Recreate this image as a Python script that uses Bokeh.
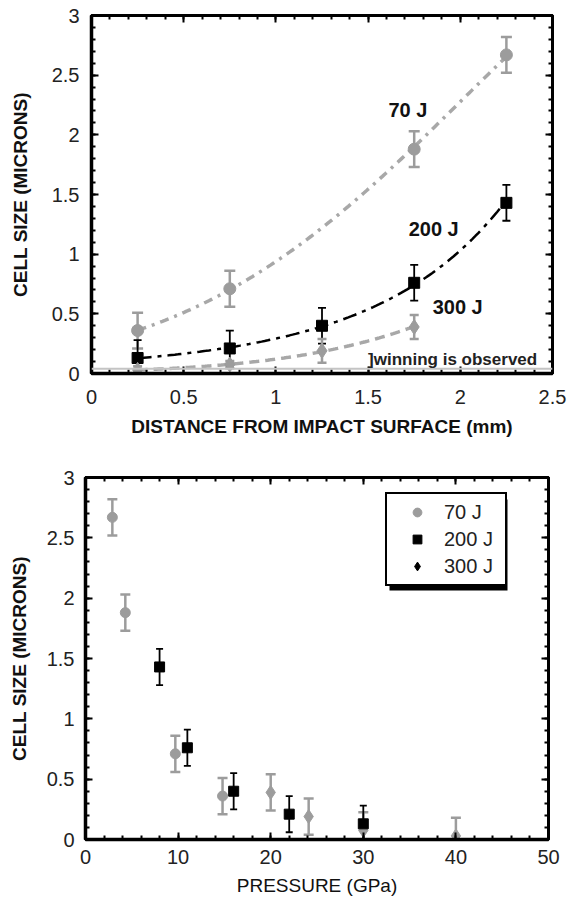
import numpy as np
from bokeh.plotting import figure
from bokeh.layouts import column, row
from bokeh.models import (ColumnDataSource, Whisker, TeeHead, Label, Span, LinearAxis, BoxAnnotation,
                          SingleIntervalTicker, CustomJSTickFormatter, Legend, LegendItem)
from bokeh.embed import file_html
from bokeh.resources import INLINE

# ---------------- data ----------------
energies = ["70 J", "200 J", "300 J"]

# panel (a): distance from impact surface (mm) vs cell size (microns)
dist_70 = [0.25, 0.75, 1.75, 2.25]
cell_70 = [0.36, 0.71, 1.88, 2.67]
erra_70 = [0.15, 0.15, 0.15, 0.15]

dist_200 = [0.25, 0.75, 1.25, 1.75, 2.25]
cell_200 = [0.13, 0.21, 0.40, 0.76, 1.43]
erra_200 = [0.15, 0.15, 0.15, 0.15, 0.15]

dist_300 = [0.25, 0.75, 1.25, 1.75]
cell_300 = [0.03, 0.075, 0.19, 0.39]
erra_300 = [0.03, 0.03, 0.10, 0.10]

twin_level = 0.04   # "twinning is observed" level

# panel (b): pressure (GPa) for the same points (same order as panel a)
pres_70 = [14.8, 9.7, 4.3, 2.9]
errb_70 = [0.15, 0.15, 0.15, 0.15]
pres_200 = [30.0, 22.0, 16.0, 11.0, 8.0]
errb_200 = [0.15, 0.15, 0.15, 0.15, 0.15]
pres_300 = [40.0, 30.0, 24.1, 20.0]
errb_300 = [0.15, 0.15, 0.15, 0.15]

GRAY = "#9c9c9c"
LGRAY = "#a8a8a8"
BLACK = "#000000"
FONT = "Liberation Sans"

fmt = CustomJSTickFormatter(code="return String(Math.round(tick*100)/100);")


def style(p, xint, yint, xlabel, ylabel, xbold, ylab_so, ytitle_so, xlab_so, xtitle_so):
    p.xgrid.visible = False
    p.ygrid.visible = False
    p.outline_line_color = "black"
    p.outline_line_width = 3
    p.background_fill_color = "white"
    p.border_fill_color = "white"
    for ax, interval in ((p.xaxis[0], xint), (p.yaxis[0], yint)):
        ax.ticker = SingleIntervalTicker(interval=interval, num_minor_ticks=5)
        ax.formatter = fmt
        ax.axis_line_width = 3.5
        ax.major_tick_in = 7
        ax.major_tick_out = 0
        ax.minor_tick_in = 4
        ax.minor_tick_out = 0
        ax.major_tick_line_width = 2
        ax.minor_tick_line_width = 2
        ax.major_label_text_font = FONT
        ax.major_label_text_font_size = "20px"
        ax.major_label_text_color = "#222222"
        ax.axis_label_text_font = FONT
        ax.axis_label_text_font_size = "19px"
        ax.axis_label_text_color = "#111111"
    p.xaxis[0].axis_label = xlabel
    p.yaxis[0].axis_label = ylabel
    p.xaxis[0].axis_label_text_font_style = "bold" if xbold else "normal"
    p.yaxis[0].axis_label_text_font_style = "bold"
    p.xaxis[0].major_label_standoff = xlab_so
    p.xaxis[0].axis_label_standoff = xtitle_so
    p.yaxis[0].major_label_standoff = ylab_so
    p.yaxis[0].axis_label_standoff = ytitle_so
    # mirrored axes (ticks only, no labels)
    for loc, interval in (("right", yint), ("above", xint)):
        ax = LinearAxis(ticker=SingleIntervalTicker(interval=interval, num_minor_ticks=5))
        ax.major_label_text_font_size = "0px"
        ax.major_label_text_color = None
        ax.major_label_standoff = 0
        ax.axis_line_width = 3
        ax.major_tick_in = 7
        ax.major_tick_out = 0
        ax.minor_tick_in = 4
        ax.minor_tick_out = 0
        ax.major_tick_line_width = 2
        ax.minor_tick_line_width = 2
        p.add_layout(ax, loc)


def errbars(p, x, y, e, color, width, head):
    y = np.asarray(y, dtype=float)
    e = np.asarray(e, dtype=float)
    src = ColumnDataSource(dict(x=x, lo=y - e, hi=y + e))
    w = Whisker(source=src, base="x", lower="lo", upper="hi",
                line_color=color, line_width=width,
                upper_head=TeeHead(size=head, line_color=color, line_width=width),
                lower_head=TeeHead(size=head, line_color=color, line_width=width))
    p.add_layout(w)


def fit_curve(x, y, n=120):
    # smooth trend through the points: quadratic fit of log(cell size)
    c = np.polyfit(x, np.log(y), 2)
    xs = np.linspace(min(x), max(x), n)
    return xs, np.exp(np.polyval(c, xs))


# ---------------- panel (a) ----------------
pa = figure(frame_width=461, frame_height=358, x_range=(0, 2.5), y_range=(0, 3),
            output_backend="svg", toolbar_location=None,
            min_border_left=91, min_border_right=16, min_border_top=15, min_border_bottom=77)
style(pa, 0.5, 0.5, "DISTANCE FROM IMPACT SURFACE (mm)", "CELL SIZE (MICRONS)", True,
      12, 18, 16, 9)

pa.add_layout(Span(location=twin_level, dimension="width", line_color="#c4c4c4", line_width=2))

xs, ys = fit_curve(dist_70, cell_70)
pa.line(xs, ys, line_color=LGRAY, line_width=3.5, line_dash="9 6 3 6")
xs, ys = fit_curve(dist_200, cell_200)
pa.line(xs, ys, line_color=BLACK, line_width=2.5, line_dash="14 6 4 6")
xs, ys = fit_curve(dist_300, cell_300)
pa.line(xs, ys, line_color=LGRAY, line_width=3.5, line_dash="10 6")

errbars(pa, dist_70, cell_70, erra_70, GRAY, 2.5, 11)
errbars(pa, dist_200, cell_200, erra_200, BLACK, 1.8, 8)
errbars(pa, dist_300, cell_300, erra_300, GRAY, 2.5, 9)

pa.scatter(dist_70, cell_70, marker="circle", size=12, fill_color=GRAY, line_color=GRAY)
pa.scatter(dist_200, cell_200, marker="square", size=11, fill_color=BLACK, line_color=BLACK)
pa.scatter(dist_300, cell_300, marker="diamond", size=15, fill_color=GRAY, line_color=GRAY)

for txt, x, y in ((energies[0], 1.61, 2.21), (energies[1], 1.72, 1.215), (energies[2], 1.85, 0.56)):
    pa.add_layout(Label(x=x, y=y, text=txt, text_font=FONT, text_font_size="20px",
                        text_font_style="bold", text_baseline="middle", text_color="#111111"))
pa.add_layout(Label(x=1.50, y=0.115, text="]winning is observed", text_font=FONT,
                    text_font_size="17px", text_font_style="bold", text_baseline="middle",
                    text_color="#222222"))
pa.add_layout(Label(x=-0.43, y=-0.436, text="(a)", text_font="Liberation Serif",
                    text_font_size="19px", text_baseline="middle", text_color="#222222"))

# ---------------- panel (b) ----------------
pb = figure(frame_width=463, frame_height=362, x_range=(0, 50), y_range=(0, 3),
            output_backend="svg", toolbar_location=None,
            min_border_left=85, min_border_right=20, min_border_top=27, min_border_bottom=61)
style(pb, 10, 0.5, "PRESSURE (GPa)", "CELL SIZE (MICRONS)", False,
      11, 14, 10, 8)

errbars(pb, pres_70, cell_70, errb_70, GRAY, 2.5, 10)
errbars(pb, pres_300, cell_300, errb_300, GRAY, 2.5, 10)
errbars(pb, pres_200, cell_200, errb_200, BLACK, 1.8, 7)

r70 = pb.scatter(pres_70, cell_70, marker="circle", size=10, fill_color=GRAY, line_color=GRAY)
pb.scatter(pres_300, cell_300, marker="diamond", size=14, fill_color=GRAY, line_color=GRAY)
r200 = pb.scatter(pres_200, cell_200, marker="square", size=10, fill_color=BLACK, line_color=BLACK)
# legend proxy (black diamond, not drawn in the frame)
r300 = pb.scatter([np.nan], [np.nan], marker="diamond", size=16, fill_color=BLACK, line_color=BLACK)

pb.add_layout(Label(x=-7.9, y=-0.356, text="(b)", text_font="Liberation Serif",
                    text_font_size="19px", text_baseline="middle", text_color="#222222"))

# legend with a drop shadow (legend box in screen px: left 385, right 503, top 495, bottom 586)
fx0, fy0, sx, sy = 85.0, 839.0, 463.0 / 50.0, 362.0 / 3.0
def dx(px): return (px - fx0) / sx
def dy(py): return (fy0 - py) / sy
pb.add_layout(BoxAnnotation(left=dx(389), right=dx(507), top=dy(499), bottom=dy(590),
                            fill_color="black", fill_alpha=1, line_color=None))

leg = Legend(items=[LegendItem(label=energies[0], renderers=[r70]),
                    LegendItem(label=energies[1], renderers=[r200]),
                    LegendItem(label=energies[2], renderers=[r300])],
             location=(300, 253), label_text_font=FONT, label_text_font_size="20px",
             label_text_color="#222222", glyph_width=48, glyph_height=22, label_height=24,
             label_width=55, label_standoff=3, spacing=3, padding=6, margin=0,
             border_line_color="black", border_line_width=2, border_line_alpha=1,
             background_fill_color="white", background_fill_alpha=1)
pb.add_layout(leg)

layout = column(row(pa), row(pb), spacing=0)
open("out.html", "w").write(file_html(layout, INLINE))
